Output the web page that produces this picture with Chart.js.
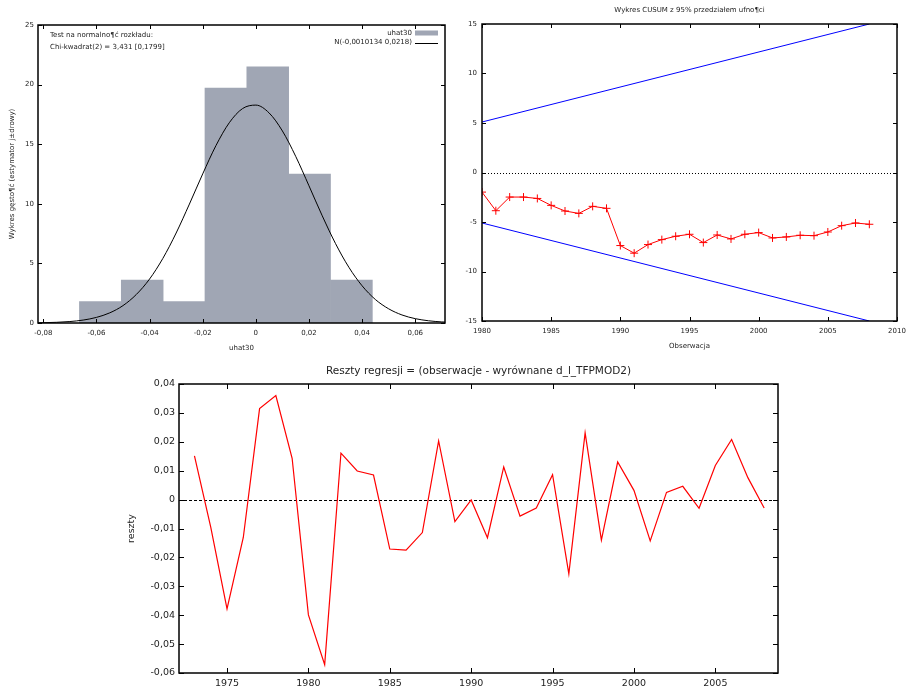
<!DOCTYPE html>
<html>
<head>
<meta charset="utf-8">
<script src="https://cdn.jsdelivr.net/npm/chart.js@4/dist/chart.umd.min.js"></script>
<style>
body { margin: 0; background: #fff; width: 906px; height: 689px; position: relative; overflow: hidden; }
.box { position: absolute; }
</style>
</head>
<body>
<div class="box" style="left:0;top:0;width:450px;height:355px"><canvas id="hist"></canvas></div>
<div class="box" style="left:450px;top:0;width:456px;height:355px"><canvas id="cusum"></canvas></div>
<div class="box" style="left:0;top:355px;width:906px;height:334px"><canvas id="resid"></canvas></div>
<script>
// histogram of residuals (density scale)
var binEdges = [-0.0664, -0.05065, -0.0349, -0.01915, -0.0034, 0.01235, 0.0281, 0.04385];
var binDensity = [1.8, 3.6, 1.8, 19.7, 21.5, 12.5, 3.6];
// normal density curve
var curveX = [-0.082, -0.08, -0.075, -0.07, -0.065, -0.06, -0.055, -0.05, -0.045, -0.04, -0.035, -0.03, -0.025, -0.02, -0.015, -0.01, -0.005,
    0, 0.005, 0.01, 0.015, 0.02, 0.025, 0.03, 0.035, 0.04, 0.045, 0.05, 0.055, 0.06, 0.065, 0.07, 0.0712];
var curveY = [0.018, 0.026, 0.058, 0.122, 0.246, 0.47, 0.85, 1.46, 2.39, 3.69, 5.42, 7.55, 9.98, 12.51, 14.89, 16.8, 17.99,
    18.28, 17.62, 16.11, 13.98, 11.51, 8.99, 6.66, 4.68, 3.12, 1.97, 1.19, 0.675, 0.365, 0.187, 0.091, 0.08];
var histXTicks = [-0.08, -0.06, -0.04, -0.02, 0, 0.02, 0.04, 0.06];
var histYTicks = [0, 5, 10, 15, 20, 25];

// CUSUM
var cusumYears = [1980, 1981, 1982, 1983, 1984, 1985, 1986, 1987, 1988, 1989, 1990, 1991, 1992, 1993, 1994,
    1995, 1996, 1997, 1998, 1999, 2000, 2001, 2002, 2003, 2004, 2005, 2006, 2007, 2008];
var cusumValues = [-1.98, -3.86, -2.48, -2.48, -2.62, -3.32, -3.89, -4.13, -3.42, -3.62, -7.38, -8.15, -7.28, -6.78, -6.44,
    -6.24, -7.08, -6.31, -6.71, -6.24, -6.07, -6.61, -6.51, -6.34, -6.38, -6.01, -5.37, -5.10, -5.23];
var boundYears = [1980, 2008];
var upperBound = [5.1, 15.0];
var lowerBound = [-5.1, -15.0];
var cusumXTicks = [1980, 1985, 1990, 1995, 2000, 2005, 2010];
var cusumYTicks = [-15, -10, -5, 0, 5, 10, 15];

// regression residuals
var residYears = [1973, 1974, 1975, 1976, 1977, 1978, 1979, 1980, 1981, 1982, 1983, 1984, 1985, 1986, 1987, 1988, 1989, 1990,
    1991, 1992, 1993, 1994, 1995, 1996, 1997, 1998, 1999, 2000, 2001, 2002, 2003, 2004, 2005, 2006, 2007, 2008];
var residValues = [0.0151, -0.0095, -0.0378, -0.0131, 0.0315, 0.036, 0.0143, -0.0399, -0.0571, 0.0161, 0.0099, 0.0085,
    -0.0171, -0.0175, -0.0114, 0.0203, -0.0076, -0.0001, -0.0132, 0.0113, -0.0057, -0.0029, 0.0086, -0.0257,
    0.0231, -0.014, 0.013, 0.0032, -0.0143, 0.0025, 0.0046, -0.003, 0.0118, 0.0208, 0.0076, -0.0029];
var residXTicks = [1975, 1980, 1985, 1990, 1995, 2000, 2005];
var residYTicks = [-0.06, -0.05, -0.04, -0.03, -0.02, -0.01, 0, 0.01, 0.02, 0.03, 0.04];

var TEXT = '#222';
var BAR_GREY = 'rgb(160,166,180)';
var F7 = { family: 'DejaVu Sans', size: 7 };
var F9 = { family: 'DejaVu Sans', size: 9.5 };

function pairs(xs, ys) {
    return xs.map(function (x, i) { return { x: x, y: ys[i] }; });
}
function comma2(v) {
    if (Math.abs(v) < 1e-9) return '0';
    return v.toFixed(2).replace('.', ',');
}
function fixedTicks(list) {
    return function (s) { s.ticks = list.map(function (v) { return { value: v }; }); };
}
function fixSize(w, h) {
    return function (s) {
        if (w != null) s.width = w;
        if (h != null) s.height = h;
        s.paddingLeft = 0; s.paddingRight = 0; s.paddingTop = 0; s.paddingBottom = 0;
    };
}

// gnuplot-like frame: border, inward ticks on all four sides, optional zero line
var framePlugin = {
    id: 'frame',
    beforeDatasetsDraw: function (chart, args, opts) {
        if (!opts.zero) return;
        var ctx = chart.ctx, a = chart.chartArea;
        var y = Math.round(chart.scales.y.getPixelForValue(0)) + 0.5;
        ctx.save();
        ctx.strokeStyle = '#000';
        ctx.lineWidth = 1;
        ctx.setLineDash(opts.zero);
        ctx.beginPath();
        ctx.moveTo(a.left, y);
        ctx.lineTo(a.right, y);
        ctx.stroke();
        ctx.restore();
    },
    afterDatasetsDraw: function (chart, args, opts) {
        var ctx = chart.ctx, a = chart.chartArea;
        var xs = chart.scales.x, ys = chart.scales.y;
        var L = opts.tick || 4;
        ctx.save();
        ctx.strokeStyle = '#000';
        ctx.lineWidth = 1;
        ctx.beginPath();
        xs.ticks.forEach(function (t) {
            var px = Math.round(xs.getPixelForValue(t.value)) + 0.5;
            ctx.moveTo(px, a.bottom); ctx.lineTo(px, a.bottom - L);
            ctx.moveTo(px, a.top); ctx.lineTo(px, a.top + L);
        });
        ys.ticks.forEach(function (t) {
            var py = Math.round(ys.getPixelForValue(t.value)) + 0.5;
            ctx.moveTo(a.left, py); ctx.lineTo(a.left + L, py);
            ctx.moveTo(a.right, py); ctx.lineTo(a.right - L, py);
        });
        ctx.stroke();
        ctx.lineWidth = 1.5;
        ctx.strokeRect(a.left, a.top, a.right - a.left, a.bottom - a.top);
        ctx.restore();
    }
};

// free text (titles, notes) and the small inside legend
var notesPlugin = {
    id: 'notes',
    afterDraw: function (chart, args, opts) {
        var ctx = chart.ctx, a = chart.chartArea;
        ctx.save();
        ctx.fillStyle = TEXT;
        ctx.textBaseline = 'middle';
        (opts.items || []).forEach(function (n) {
            ctx.font = (n.size || 7) + 'px "DejaVu Sans"';
            var x = n.x;
            ctx.textAlign = 'left';
            if (n.x === 'center') {
                x = (a.left + a.right) / 2;
                ctx.textAlign = 'center';
            }
            ctx.fillText(n.text, x, n.y);
        });
        if (opts.legend) {
            var lg = opts.legend;
            ctx.font = '7px "DejaVu Sans"';
            ctx.textAlign = 'right';
            chart.data.datasets.forEach(function (ds, i) {
                var y = lg.rows[i];
                ctx.fillStyle = TEXT;
                ctx.fillText(ds.label, lg.right, y);
                if (ds.type === 'bar') {
                    ctx.fillStyle = ds.backgroundColor;
                    ctx.fillRect(lg.right + 3, y - 3, 23, 5);
                } else {
                    ctx.strokeStyle = ds.borderColor;
                    ctx.lineWidth = 1;
                    ctx.beginPath();
                    ctx.moveTo(lg.right + 3, Math.round(y) + 0.5);
                    ctx.lineTo(lg.right + 26, Math.round(y) + 0.5);
                    ctx.stroke();
                }
            });
        }
        ctx.restore();
    }
};

Chart.defaults.animation = false;
Chart.defaults.responsive = true;
Chart.defaults.maintainAspectRatio = false;
Chart.defaults.plugins.legend.display = false;
Chart.defaults.plugins.tooltip.enabled = false;

function axis(opts) {
    return Object.assign({
        type: 'linear',
        offset: false,
        grid: { display: false, drawTicks: false },
        border: { display: false }
    }, opts);
}

// top left: histogram + normal curve
var binCenters = binDensity.map(function (d, i) { return (binEdges[i] + binEdges[i + 1]) / 2; });
new Chart(document.getElementById('hist'), {
    type: 'line',
    data: {
        datasets: [{
            type: 'bar',
            label: 'uhat30',
            data: pairs(binCenters, binDensity),
            backgroundColor: BAR_GREY,
            borderWidth: 0,
            barPercentage: 1,
            categoryPercentage: 1,
            order: 2
        }, {
            type: 'line',
            label: 'N(-0,0010134 0,0218)',
            data: pairs(curveX, curveY),
            borderColor: '#000',
            borderWidth: 1,
            pointRadius: 0,
            cubicInterpolationMode: 'monotone',
            order: 1
        }]
    },
    options: {
        layout: { padding: { top: 25, right: 5, left: 0, bottom: 0 } },
        scales: {
            x: axis({
                min: -0.082, max: 0.0712,
                afterBuildTicks: fixedTicks(histXTicks),
                afterFit: fixSize(null, 32),
                ticks: { font: F7, color: TEXT, padding: 6, maxRotation: 0, autoSkip: false, callback: comma2 },
                title: { display: true, text: 'uhat30', font: F7, color: TEXT, padding: { top: 0, bottom: 3 } }
            }),
            y: axis({
                min: 0, max: 25,
                afterBuildTicks: fixedTicks(histYTicks),
                afterFit: fixSize(38, null),
                ticks: { font: F7, color: TEXT, padding: 4 },
                title: { display: true, text: 'Wykres gęsto¶ć (estymator j±drowy)', font: F7, color: TEXT, padding: { top: 8, bottom: 0 } }
            })
        },
        plugins: {
            frame: { tick: 4 },
            notes: {
                items: [
                    { text: 'Test na normalno¶ć rozkładu:', x: 50, y: 35 },
                    { text: 'Chi-kwadrat(2) = 3,431 [0,1799]', x: 50, y: 47.5 }
                ],
                legend: { right: 412, rows: [33.5, 42.5] }
            }
        }
    },
    plugins: [framePlugin, notesPlugin]
});

// top right: CUSUM with 95% band
new Chart(document.getElementById('cusum'), {
    type: 'line',
    data: {
        datasets: [{
            label: 'upper',
            data: pairs(boundYears, upperBound),
            borderColor: '#0000ff',
            borderWidth: 1,
            pointRadius: 0
        }, {
            label: 'lower',
            data: pairs(boundYears, lowerBound),
            borderColor: '#0000ff',
            borderWidth: 1,
            pointRadius: 0
        }, {
            label: 'CUSUM',
            data: pairs(cusumYears, cusumValues),
            borderColor: '#ff0000',
            borderWidth: 1,
            pointStyle: 'cross',
            pointRadius: 4,
            pointBorderColor: '#ff0000',
            pointBorderWidth: 1,
            tension: 0
        }]
    },
    options: {
        layout: { padding: { top: 24, right: 9, left: 0, bottom: 0 } },
        scales: {
            x: axis({
                min: 1980, max: 2010,
                afterBuildTicks: fixedTicks(cusumXTicks),
                afterFit: fixSize(null, 34),
                ticks: { font: F7, color: TEXT, padding: 6, maxRotation: 0, autoSkip: false, callback: function (v) { return String(v); } },
                title: { display: true, text: 'Obserwacja', font: F7, color: TEXT, padding: { top: 0, bottom: 5 } }
            }),
            y: axis({
                min: -15, max: 15,
                afterBuildTicks: fixedTicks(cusumYTicks),
                afterFit: fixSize(32, null),
                ticks: { font: F7, color: TEXT, padding: 5 }
            })
        },
        plugins: {
            frame: { tick: 4, zero: [1, 2] },
            notes: { items: [{ text: 'Wykres CUSUM z 95% przedziałem ufno¶ci', x: 'center', y: 10 }] }
        }
    },
    plugins: [framePlugin, notesPlugin]
});

// bottom: regression residuals
new Chart(document.getElementById('resid'), {
    type: 'line',
    data: {
        datasets: [{
            label: 'reszty',
            data: pairs(residYears, residValues),
            borderColor: '#ff0000',
            borderWidth: 1.2,
            pointRadius: 0,
            tension: 0
        }]
    },
    options: {
        layout: { padding: { top: 29, right: 128, left: 120, bottom: 0 } },
        scales: {
            x: axis({
                min: 1972.05, max: 2008.85,
                afterBuildTicks: fixedTicks(residXTicks),
                afterFit: fixSize(null, 16),
                ticks: { font: F9, color: TEXT, padding: 5, maxRotation: 0, autoSkip: false, callback: function (v) { return String(v); } }
            }),
            y: axis({
                min: -0.06, max: 0.04,
                afterBuildTicks: fixedTicks(residYTicks),
                afterFit: fixSize(59, null),
                ticks: { font: F9, color: TEXT, padding: 4, callback: comma2 },
                title: { display: true, text: 'reszty', font: F9, color: TEXT, padding: { top: 6, bottom: 0 } }
            })
        },
        plugins: {
            frame: { tick: 5, zero: [3, 2] },
            notes: { items: [{ text: 'Reszty regresji = (obserwacje - wyrównane d_l_TFPMOD2)', x: 'center', y: 16, size: 10.5 }] }
        }
    },
    plugins: [framePlugin, notesPlugin]
});
</script>
</body>
</html>
